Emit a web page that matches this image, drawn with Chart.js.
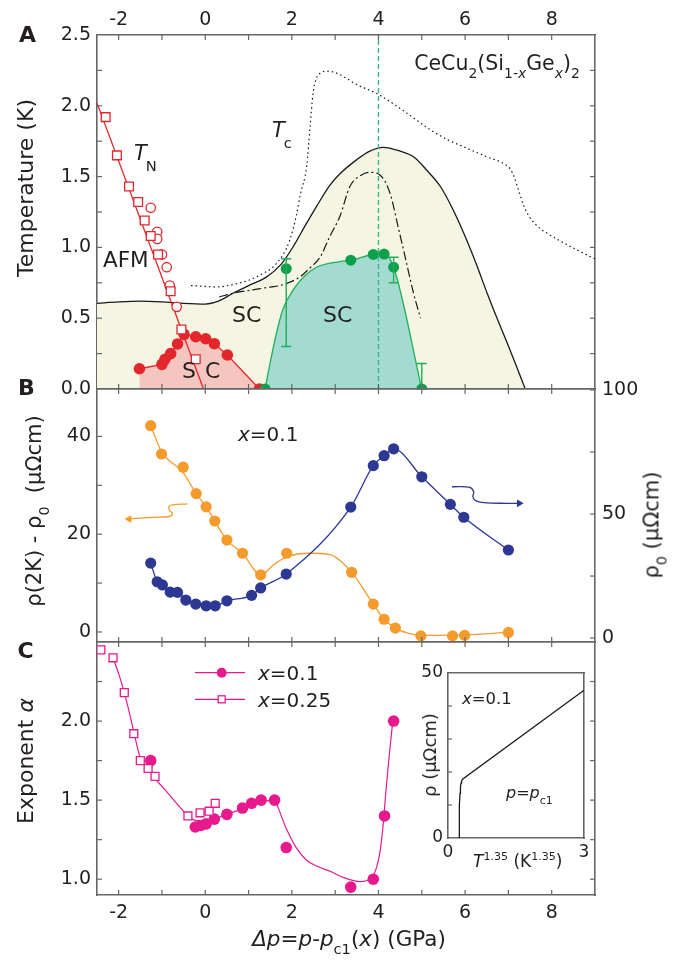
<!DOCTYPE html>
<html>
<head>
<meta charset="utf-8">
<title>CeCu2(Si1-xGex)2</title>
<script src="https://cdn.jsdelivr.net/npm/chart.js@4/dist/chart.umd.min.js"></script>
<style>
  html, body { margin: 0; padding: 0; background: #fff; }
  #fig { position: relative; width: 673px; height: 964px; overflow: hidden;
         font-family: "DejaVu Sans", sans-serif; color: #231f20; }
  .panel { position: absolute; left: 0; }
  .panel canvas { display: block; }
  .t { position: absolute; white-space: nowrap; line-height: 1; font-size: 21px; transform: translate(0, -50%); }
  .c { transform: translate(-50%, -50%); }
  .r { transform: translate(-50%, -50%) rotate(-90deg); }
  .b { font-weight: bold; }
  i { font-style: italic; }
  .sub { font-size: .68em; position: relative; top: .55em; }
  .sub2 { font-size: .7em; position: relative; top: .75em; margin-left: -1px; }
  .sup { font-size: .65em; position: relative; top: -.6em; }
</style>
</head>
<body>
<div id="fig">
  <div class="panel" style="top:0"><canvas id="cA" width="673" height="404"></canvas></div>
  <div class="panel" style="top:374px"><canvas id="cB" width="673" height="283"></canvas></div>
  <div class="panel" style="top:627px"><canvas id="cC" width="673" height="337"></canvas></div>
  <div class="panel" style="left:400px;top:658px"><canvas id="cI" width="200" height="210"></canvas></div>

  <!-- panel letters and axis titles -->
  <div class="t c b" style="left:27.5px;top:35px;font-size:22px">A</div>
  <div class="t c b" style="left:26.5px;top:387.5px;font-size:22px">B</div>
  <div class="t c b" style="left:25.5px;top:650.5px;font-size:22px">C</div>
  <div class="t r" style="left:26px;top:188px;font-size:22px">Temperature (K)</div>
  <div class="t r" style="left:34px;top:511px;font-size:21px">ρ(2K) - ρ<span class="sub">0</span>&nbsp; (μΩcm)</div>
  <div class="t r" style="left:652px;top:525px;font-size:21px">ρ<span class="sub">0</span> (μΩcm)</div>
  <div class="t r" style="left:26px;top:761px;font-size:22px">Exponent <i>α</i></div>
  <div class="t c" style="left:349px;top:939px;font-size:21.5px"><i>Δp</i>=<i>p</i>-<i>p</i><span class="sub">c1</span>(<i>x</i>) (GPa)</div>

  <!-- panel A notes -->
  <div class="t c" style="left:497px;top:63px;font-size:20.5px">CeCu<span class="sub">2</span>(Si<span class="sub">1-<i>x</i></span>Ge<span class="sub"><i>x</i></span>)<span class="sub">2</span></div>
  <div class="t" style="left:272px;top:130px"><i>T</i><span class="sub2">c</span></div>
  <div class="t" style="left:134px;top:153px"><i>T</i><span class="sub2">N</span></div>
  <div class="t" style="left:103px;top:259.5px;font-size:21.5px">AFM</div>
  <div class="t" style="left:232px;top:314.5px;font-size:22px">SC</div>
  <div class="t" style="left:323px;top:315px;font-size:22px">SC</div>
  <div class="t" style="left:182px;top:371px;font-size:22px">S</div>
  <div class="t" style="left:205px;top:371px;font-size:22px">C</div>

  <!-- panel B / C notes -->
  <div class="t" style="left:238px;top:433.5px;font-size:20px"><i>x</i>=0.1</div>
  <div class="t" style="left:258px;top:672.5px;font-size:20px"><i>x</i>=0.1</div>
  <div class="t" style="left:258px;top:699.5px;font-size:20px"><i>x</i>=0.25</div>

  <!-- inset notes -->
  <div class="t" style="left:462px;top:699px;font-size:16.5px"><i>x</i>=0.1</div>
  <div class="t" style="left:506px;top:793px;font-size:16px"><i>p</i>=<i>p</i><span class="sub">c1</span></div>
  <div class="t" style="left:473px;top:861px;font-size:17px"><i>T</i><span class="sup">1.35</span> (K<span class="sup">1.35</span>)</div>
  <div class="t r" style="left:430px;top:755px;font-size:18px">ρ (μΩcm)</div>
</div>

<script>
// ---- shared x axis (GPa)
const XMIN = -2.5, XMAX = 9;
const xTickLabels = [-2, 0, 2, 4, 6, 8];

// ---- panel A: temperature (K)
const tempTickLabels = [0, 0.5, 1, 1.5, 2, 2.5];
const tnSqX = [-2.30, -2.04, -1.76, -1.55, -1.40, -1.26, -1.09, -0.80, -0.55, -0.22];
const tnSqY = [1.92, 1.65, 1.43, 1.32, 1.19, 1.08, 0.95, 0.69, 0.42, 0.21];
const tnCircX = [-1.26, -1.11, -1.11, -1.00, -0.89, -0.82, -0.66];
const tnCircY = [1.28, 1.11, 1.06, 0.95, 0.86, 0.73, 0.58];
const tnLineX = [-2.5, -0.04];
const tnLineY = [2.02, 0];
const scRedX = [-1.52, -1.00, -0.93, -0.80, -0.64, -0.49, -0.22, 0.01, 0.21, 0.51, 1.25];
const scRedY = [0.143, 0.174, 0.21, 0.25, 0.318, 0.386, 0.369, 0.355, 0.32, 0.24, 0.0];
const scGreenX = [1.38, 1.87, 3.36, 3.88, 4.13, 4.35, 5.00];
const scGreenY = [0.0, 0.85, 0.91, 0.95, 0.953, 0.86, 0.0];
const scGreenLo = [null, 0.30, null, null, null, 0.75, 0.0];
const scGreenHi = [null, 0.92, null, null, null, 0.93, 0.18];
const greenFitX = [1.38, 1.48, 1.64, 1.79, 2.03, 2.3, 2.57, 3.11, 3.36, 3.88, 4.13, 4.35, 5.0];
const greenFitY = [0.0, 0.157, 0.39, 0.56, 0.70, 0.80, 0.86, 0.90, 0.91, 0.95, 0.953, 0.86, 0.0];
const tcSolidX = [-2.5, -2.0, -1.5, -1.0, -0.5, 0, 0.3, 0.64, 1.0, 1.41, 1.75, 2.03, 2.3, 2.57, 2.88, 3.11, 3.5, 3.8, 4.11, 4.5, 4.81, 5.1, 5.43, 5.7, 5.97, 6.25, 6.51, 6.75, 6.98, 7.2, 7.39];
const tcSolidY = [0.605, 0.615, 0.62, 0.615, 0.605, 0.60, 0.62, 0.676, 0.73, 0.79, 0.88, 1.005, 1.15, 1.29, 1.44, 1.52, 1.62, 1.68, 1.707, 1.68, 1.64, 1.55, 1.43, 1.28, 1.10, 0.89, 0.676, 0.49, 0.32, 0.15, 0.0];
const tcDashX = [0.32, 0.7, 1.10, 1.5, 1.72, 2.0, 2.18, 2.4, 2.65, 2.88, 3.11, 3.34, 3.6, 3.81, 4.04, 4.27, 4.45, 4.58, 4.81, 4.97];
const tcDashY = [0.65, 0.68, 0.70, 0.72, 0.73, 0.76, 0.79, 0.85, 0.93, 1.08, 1.22, 1.43, 1.51, 1.53, 1.51, 1.38, 1.15, 0.98, 0.676, 0.50];
const tcDotX = [-0.33, 0, 0.25, 0.6, 1.02, 1.3, 1.56, 1.8, 1.95, 2.1, 2.2, 2.34, 2.42, 2.49, 2.56, 2.65, 2.8, 2.95, 3.11, 3.5, 4.0, 4.6, 5.2, 5.6, 5.97, 6.5, 6.9, 7.05, 7.13, 7.25, 7.36, 7.5, 7.67, 8.0, 8.29, 8.6, 8.99];
const tcDotY = [0.73, 0.725, 0.72, 0.735, 0.77, 0.81, 0.86, 0.95, 1.05, 1.22, 1.38, 1.57, 1.85, 2.09, 2.19, 2.23, 2.245, 2.24, 2.22, 2.15, 2.08, 1.96, 1.83, 1.76, 1.71, 1.64, 1.59, 1.55, 1.50, 1.39, 1.29, 1.21, 1.15, 1.08, 1.03, 0.98, 0.92];
const qcpX = [4, 4];
const qcpY = [0, 2.5];

// ---- panel B: resistivity
const rhoLeftTickLabels = [0, 20, 40];
const rho0TickLabels = [0, 50, 100];
const rhoAX = [-1.26, -1.01, -0.51, -0.21, 0.02, 0.22, 0.50, 0.86, 1.28, 1.88, 3.38, 3.88, 4.13, 4.39, 4.98, 5.71, 5.99, 7.00];
const rhoAY = [42.2, 36.4, 33.7, 28.3, 25.6, 22.7, 18.8, 16.1, 11.7, 16.1, 12.2, 5.7, 2.6, 0.8, -0.8, -0.8, -0.7, -0.1];
const rhoAFitX = [-1.26, -1.01, -0.51, -0.21, 0.02, 0.22, 0.50, 0.86, 1.28, 1.6, 1.9, 2.4, 2.88, 3.38, 3.88, 4.13, 4.39, 4.7, 5.0, 6.0, 7.0];
const rhoAFitY = [42.2, 36.9, 32.6, 28.3, 25.6, 22.7, 18.8, 16.1, 11.7, 13.9, 15.4, 16.1, 15.8, 12.2, 5.7, 2.6, 0.8, -0.3, -0.7, -0.6, -0.1];
const rho0X = [-1.26, -1.11, -0.99, -0.81, -0.64, -0.45, -0.22, 0.02, 0.23, 0.50, 1.07, 1.28, 1.87, 3.36, 3.88, 4.13, 4.35, 5.00, 5.66, 5.97, 7.00];
const rho0Y = [30.2, 22.7, 21.4, 18.5, 18.4, 15.3, 13.7, 13.0, 13.0, 15.0, 17.2, 20.2, 25.8, 52.8, 69.5, 73.5, 76.3, 65.0, 53.9, 48.7, 35.5];
const arrowAX = [-0.41, -0.76, -0.84, -0.82, -0.76, -0.80, -1.07, -1.53, -1.76];
const arrowAY = [26.2, 26.0, 25.6, 24.8, 24.3, 23.7, 23.5, 23.3, 23.1];
const arrow0X = [5.70, 6.09, 6.20, 6.18, 6.24, 6.43, 6.98, 7.25];
const arrow0Y = [61.0, 60.8, 59.0, 57.0, 55.4, 54.6, 54.3, 54.3];

// ---- panel C: exponent alpha
const alphaTickLabels = [1, 1.5, 2];
const a01X = [-1.26, -0.23, -0.10, 0.02, 0.21, 0.50, 0.86, 1.07, 1.29, 1.60, 1.87, 3.36, 3.88, 4.14, 4.35];
const a01Y = [1.75, 1.33, 1.34, 1.35, 1.38, 1.41, 1.45, 1.48, 1.50, 1.50, 1.20, 0.95, 1.00, 1.40, 2.00];
const a25X = [-2.41, -2.13, -1.87, -1.65, -1.50, -1.32, -1.16, -0.40, -0.12, 0.09, 0.23];
const a25Y = [2.45, 2.40, 2.18, 1.92, 1.75, 1.70, 1.65, 1.40, 1.42, 1.43, 1.48];
const alphaFitX = [-2.13, -2.0, -1.87, -1.75, -1.65, -1.5, -1.3, -1.14, -0.91, -0.6, -0.4, -0.2, 0, 0.5, 1.0, 1.3, 1.6, 1.7, 1.87, 2.1, 2.34, 2.6, 2.88, 3.2, 3.57, 3.8, 3.95, 4.05, 4.11, 4.17, 4.23, 4.33];
const alphaFitY = [2.40, 2.30, 2.18, 2.05, 1.93, 1.77, 1.69, 1.63, 1.56, 1.46, 1.40, 1.37, 1.37, 1.41, 1.46, 1.49, 1.50, 1.44, 1.32, 1.20, 1.12, 1.08, 1.05, 1.01, 0.985, 1.0, 1.07, 1.2, 1.35, 1.55, 1.73, 2.0];

// ---- inset: rho vs T^1.35
const insetXTickLabels = [0, 3];
const insetYTickLabels = [0, 50];
const insetX = [0.243, 0.245, 0.25, 0.257, 0.265, 0.275, 0.287, 0.30, 0.32, 3.0];
const insetY = [0, 3, 6.5, 10, 13.5, 15.5, 16.6, 17.3, 17.8, 44.8];

// ---- styles
const FONT = '"DejaVu Sans", sans-serif';
const TXT = '#231f20';
const AXC = '#666666';
const INK = '#1a1a1a';
const RED = '#e3262b';
const PINK = '#f5c6bf';
const GREEN = '#0e9f4d';
const GREENL = '#1fae5b';
const TEAL = '#a4dbd1';
const YELLOW = '#f4f5e2';
const QCP = '#3ab68c';
const ORANGE = '#f49b2c';
const BLUE = '#2c3893';
const MAG = '#e61a8d';

Chart.defaults.font.family = FONT;

function xy(xs, ys) {
  return xs.map((x, i) => ({x: x, y: ys[i]}));
}

function axis(pos, o) {
  const lab = o.labels || [];
  return {
    type: 'linear',
    position: pos,
    axis: (pos === 'top' || pos === 'bottom') ? 'x' : 'y',
    min: o.min,
    max: o.max,
    grid: {display: false, drawTicks: false},
    border: {display: true, color: AXC, width: 1.6},
    ticks: {
      display: lab.length > 0,
      stepSize: o.step,
      includeBounds: false,
      autoSkip: false,
      maxRotation: 0,
      minRotation: 0,
      padding: o.pad === undefined ? 6 : o.pad,
      color: TXT,
      font: {family: FONT, size: o.size || 19},
      callback: function (v) {
        const hit = lab.find(l => Math.abs(l - v) < 1e-6);
        return hit === undefined ? '' : (o.fmt ? o.fmt(hit) : String(hit));
      }
    },
    afterFit: function (s) {
      if (o.w !== undefined) s.width = o.w;
      if (o.h !== undefined) s.height = o.h;
      s.paddingLeft = s.paddingRight = s.paddingTop = s.paddingBottom = 0;
    }
  };
}

// tick marks drawn inward, like the journal figure
const inTicks = {
  id: 'inTicks',
  afterDraw(chart, args, opts) {
    const ctx = chart.ctx, a = chart.chartArea;
    const len = opts.len || 5;
    ctx.save();
    ctx.strokeStyle = AXC;
    ctx.lineWidth = 1.2;
    Object.values(chart.scales).forEach(s => {
      if (opts.only && opts.only.indexOf(s.id) < 0) return;
      s.ticks.forEach(t => {
        if (t.value <= s.min + 1e-9 || t.value >= s.max - 1e-9) return;
        const p = s.getPixelForValue(t.value);
        ctx.beginPath();
        if (s.position === 'left') { ctx.moveTo(a.left, p); ctx.lineTo(a.left + len, p); }
        else if (s.position === 'right') { ctx.moveTo(a.right, p); ctx.lineTo(a.right - len, p); }
        else if (s.position === 'top') { ctx.moveTo(p, a.top); ctx.lineTo(p, a.top + len); }
        else { ctx.moveTo(p, a.bottom); ctx.lineTo(p, a.bottom - len); }
        ctx.stroke();
      });
    });
    ctx.restore();
  }
};

const errBars = {
  id: 'errBars',
  afterDatasetsDraw(chart) {
    const ctx = chart.ctx;
    chart.data.datasets.forEach((ds, i) => {
      if (!ds.errLo) return;
      const meta = chart.getDatasetMeta(i);
      const ys = chart.scales[meta.yAxisID];
      ctx.save();
      ctx.strokeStyle = ds.errColor;
      ctx.lineWidth = 1.4;
      ds.errLo.forEach((lo, j) => {
        if (lo === null) return;
        const x = meta.data[j].x;
        const y1 = ys.getPixelForValue(lo), y2 = ys.getPixelForValue(ds.errHi[j]);
        ctx.beginPath();
        ctx.moveTo(x, y1); ctx.lineTo(x, y2);
        ctx.moveTo(x - 5, y1); ctx.lineTo(x + 5, y1);
        ctx.moveTo(x - 5, y2); ctx.lineTo(x + 5, y2);
        ctx.stroke();
      });
      ctx.restore();
    });
  }
};

const legendC = {
  id: 'legendC',
  afterDraw(chart) {
    const ctx = chart.ctx, a = chart.chartArea;
    const x0 = a.left + 98, x1 = a.left + 148, xm = a.left + 124.7;
    const y1 = a.top + 30.7, y2 = a.top + 57.3;
    ctx.save();
    ctx.strokeStyle = MAG;
    ctx.lineWidth = 1.2;
    [y1, y2].forEach(y => { ctx.beginPath(); ctx.moveTo(x0, y); ctx.lineTo(x1, y); ctx.stroke(); });
    ctx.fillStyle = MAG;
    ctx.beginPath(); ctx.arc(xm, y1, 5, 0, Math.PI * 2); ctx.fill();
    ctx.fillStyle = '#fff';
    ctx.lineWidth = 1.3;
    ctx.fillRect(xm - 3.5, y2 - 3.5, 7, 7);
    ctx.strokeRect(xm - 3.5, y2 - 3.5, 7, 7);
    ctx.restore();
  }
};

function baseOptions(scales, plug) {
  return {
    responsive: false,
    animation: false,
    devicePixelRatio: 1,
    events: [],
    layout: {padding: 0},
    plugins: Object.assign({legend: {display: false}, tooltip: {enabled: false}}, plug || {}),
    scales: scales
  };
}

// ---------- panel A
new Chart(document.getElementById('cA'), {
  type: 'line',
  data: {
    datasets: [
      {data: xy(tcSolidX, tcSolidY), borderColor: INK, borderWidth: 1.3, backgroundColor: YELLOW,
       fill: 'origin', pointRadius: 0, cubicInterpolationMode: 'monotone', clip: 0, order: 10},
      {data: xy(scRedX, scRedY), borderColor: RED, borderWidth: 1.3, backgroundColor: PINK,
       fill: 'origin', pointRadius: 5.8, pointBackgroundColor: RED, pointBorderWidth: 0, clip: 0, order: 9},
      {data: xy(greenFitX, greenFitY), borderColor: GREENL, borderWidth: 1.3, backgroundColor: TEAL,
       fill: 'origin', pointRadius: 0, cubicInterpolationMode: 'monotone', clip: 0, order: 9},
      {data: xy(tcDotX, tcDotY), borderColor: INK, borderWidth: 1.2, borderDash: [1.5, 3],
       fill: false, pointRadius: 0, cubicInterpolationMode: 'monotone', clip: 0, order: 7},
      {data: xy(tcDashX, tcDashY), borderColor: INK, borderWidth: 1.2, borderDash: [9, 3, 2, 3],
       fill: false, pointRadius: 0, cubicInterpolationMode: 'monotone', clip: 0, order: 7},
      {data: xy(qcpX, qcpY), borderColor: QCP, borderWidth: 1.4, borderDash: [5, 3],
       fill: false, pointRadius: 0, clip: 0, order: 6},
      {data: xy(tnLineX, tnLineY), borderColor: RED, borderWidth: 1.3, fill: false, pointRadius: 0, clip: 0, order: 5},
      {data: xy(tnSqX, tnSqY), showLine: false, pointStyle: 'rect', pointRadius: 6.2,
       pointBackgroundColor: '#fff', pointBorderColor: RED, pointBorderWidth: 1.3, clip: 0, order: 3},
      {data: xy(tnCircX, tnCircY), showLine: false, pointStyle: 'circle', pointRadius: 4.7,
       pointBackgroundColor: '#fff', pointBorderColor: RED, pointBorderWidth: 1.3, clip: 0, order: 3},
      {data: xy(scGreenX, scGreenY), showLine: false, pointRadius: 5.5, pointBackgroundColor: GREEN,
       pointBorderWidth: 0, errLo: scGreenLo, errHi: scGreenHi, errColor: GREENL, clip: 0, order: 1}
    ]
  },
  options: baseOptions({
    xTop: axis('top', {min: XMIN, max: XMAX, step: 1, labels: xTickLabels, h: 35, pad: 4}),
    x: axis('bottom', {min: XMIN, max: XMAX, step: 1, h: 15}),
    y: axis('left', {min: 0, max: 2.5, step: 0.25, labels: tempTickLabels, w: 97, fmt: v => v.toFixed(1)}),
    yR: axis('right', {min: 0, max: 2.5, step: 0.25, w: 78})
  }, {inTicks: {len: 5}}),
  plugins: [inTicks, errBars]
});

// ---------- panel B
new Chart(document.getElementById('cB'), {
  type: 'line',
  data: {
    datasets: [
      {data: xy(rhoAFitX, rhoAFitY), yAxisID: 'y', borderColor: ORANGE, borderWidth: 1.3, fill: false,
       pointRadius: 0, cubicInterpolationMode: 'monotone', order: 5},
      {data: xy(rhoAX, rhoAY), yAxisID: 'y', showLine: false, pointRadius: 5.6,
       pointBackgroundColor: ORANGE, pointBorderWidth: 0, order: 2},
      {data: xy(rho0X, rho0Y), yAxisID: 'yR', borderColor: BLUE, borderWidth: 1.3, fill: false,
       cubicInterpolationMode: 'monotone', pointRadius: 5.6, pointBackgroundColor: BLUE, pointBorderWidth: 0, order: 1},
      {data: xy(arrowAX, arrowAY), yAxisID: 'y', borderColor: ORANGE, borderWidth: 1.3, fill: false, tension: 0.4,
       pointRadius: arrowAX.map((v, i) => i === arrowAX.length - 1 ? 4.5 : 0), pointStyle: 'triangle',
       pointRotation: 270, pointBackgroundColor: ORANGE, pointBorderWidth: 0, order: 4},
      {data: xy(arrow0X, arrow0Y), yAxisID: 'yR', borderColor: BLUE, borderWidth: 1.3, fill: false, tension: 0.4,
       pointRadius: arrow0X.map((v, i) => i === arrow0X.length - 1 ? 4.5 : 0), pointStyle: 'triangle',
       pointRotation: 90, pointBackgroundColor: BLUE, pointBorderWidth: 0, order: 4}
    ]
  },
  options: baseOptions({
    xTop: axis('top', {min: XMIN, max: XMAX, step: 1, h: 15}),
    x: axis('bottom', {min: XMIN, max: XMAX, step: 1, h: 15}),
    y: axis('left', {min: -2.05, max: 49.7, step: 10, labels: rhoLeftTickLabels, w: 97}),
    yR: axis('right', {min: -1.6, max: 100.4, step: 25, labels: rho0TickLabels, w: 78, pad: 7})
  }, {inTicks: {len: 5}}),
  plugins: [inTicks]
});

// ---------- panel C
new Chart(document.getElementById('cC'), {
  type: 'line',
  data: {
    datasets: [
      {data: xy(alphaFitX, alphaFitY), borderColor: MAG, borderWidth: 1.2, fill: false,
       pointRadius: 0, cubicInterpolationMode: 'monotone', order: 5},
      {data: xy(a01X, a01Y), showLine: false, pointRadius: 5.8, pointBackgroundColor: MAG,
       pointBorderWidth: 0, order: 2},
      {data: xy(a25X, a25Y), showLine: false, pointStyle: 'rect', pointRadius: 5.6,
       pointBackgroundColor: '#fff', pointBorderColor: MAG, pointBorderWidth: 1.3, order: 1}
    ]
  },
  options: baseOptions({
    xTop: axis('top', {min: XMIN, max: XMAX, step: 1, h: 15}),
    x: axis('bottom', {min: XMIN, max: XMAX, step: 1, labels: xTickLabels, h: 69, pad: 7}),
    y: axis('left', {min: 0.9, max: 2.5, step: 0.25, labels: alphaTickLabels, w: 97, fmt: v => v.toFixed(1)}),
    yR: axis('right', {min: 0.9, max: 2.5, step: 0.25, w: 78})
  }, {inTicks: {len: 5}}),
  plugins: [inTicks, legendC]
});

// ---------- inset
const insetOpts = baseOptions({
  x: axis('bottom', {min: 0, max: 3, step: 1, labels: insetXTickLabels, h: 30, size: 17, pad: 4}),
  xTop: axis('top', {min: 0, max: 3, step: 1, h: 0}),
  y: axis('left', {min: 0, max: 50, step: 10, labels: insetYTickLabels, w: 48, size: 17, pad: 5}),
  yR: axis('right', {min: 0, max: 50, step: 10, w: 0})
}, {inTicks: {len: 4, only: ['y']}});
insetOpts.layout = {padding: {top: 15, right: 16, left: 0, bottom: 0}};
new Chart(document.getElementById('cI'), {
  type: 'line',
  data: {
    datasets: [
      {data: xy(insetX, insetY), borderColor: INK, borderWidth: 1.3, fill: false,
       pointRadius: 0, tension: 0}
    ]
  },
  options: insetOpts,
  plugins: [inTicks]
});
</script>
</body>
</html>
